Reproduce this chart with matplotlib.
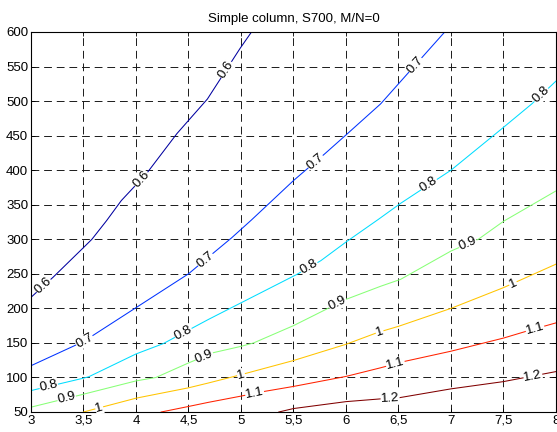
import numpy as np
import matplotlib
matplotlib.use('Agg')
from matplotlib import pyplot as plt

plt.rcParams['font.family'] = ['Liberation Sans', 'DejaVu Sans']
plt.rcParams['xtick.direction'] = 'in'
plt.rcParams['ytick.direction'] = 'in'

# contour lines: (x, y) points per level
levels = ['0.6', '0.7', '0.8', '0.9', '1', '1.1', '1.2']
colors = ['#0000A0', '#0033FF', '#00DDFF', '#88FF77', '#FFC400', '#FF2200', '#800000']

x06 = [3.0, 3.21, 3.5, 3.58, 3.72, 3.86, 4.1, 4.39, 4.68, 4.99, 5.10]
y06 = [216, 245, 288, 300, 327, 356, 395, 453, 503, 576, 600]
x07 = [3.0, 3.5, 4.0, 4.5, 4.72, 4.91, 5.1, 5.5, 5.8, 6.0, 6.33, 6.5, 6.94]
y07 = [117, 152, 201, 250, 278, 302, 328, 385, 424, 451, 496, 525, 600]
x08 = [3.0, 3.5, 3.55, 4.0, 4.26, 4.69, 5.0, 5.53, 5.76, 6.0, 6.31, 6.52, 7.0, 7.5, 7.77, 8.0]
y08 = [81, 99, 101, 134, 149, 184, 208, 249, 269, 296, 329, 352, 400, 462, 496, 529]
x09 = [3.0, 3.48, 4.0, 4.19, 4.5, 4.74, 5.0, 5.12, 5.5, 6.0, 6.33, 6.52, 7.0, 7.26, 7.5, 8.0]
y09 = [57, 75, 95, 100, 121, 136, 145, 150, 175, 213, 232, 242, 283, 300, 326, 370]
x10 = [3.5, 4.0, 4.5, 4.69, 5.0, 5.5, 6.0, 6.3, 6.5, 7.0, 7.5, 8.0]
y10 = [50, 70, 85, 92, 104, 124.5, 148, 165, 174, 200, 230, 264]
x11 = [4.24, 4.5, 4.69, 5.0, 5.23, 5.5, 6.0, 6.33, 6.55, 7.0, 7.5, 7.72, 8.0]
y11 = [50, 58, 64, 73, 80, 87, 101.5, 114, 123, 138, 157, 167, 179]
x12 = [5.36, 5.5, 6.0, 6.33, 6.5, 7.0, 7.5, 8.0]
y12 = [50, 55, 65, 69, 70.5, 83.5, 94, 108.5]

# x positions of the inline labels on each line
lab_x = [[3.12, 4.05, 4.86],
         [3.51, 4.66, 5.71, 6.66],
         [3.17, 4.45, 5.65, 6.79, 7.86],
         [3.34, 4.65, 5.92, 7.16],
         [3.65, 5.0, 6.32, 7.59],
         [5.13, 6.47, 7.8],
         [6.42, 7.78]]

xs = [x06, x07, x08, x09, x10, x11, x12]
ys = [y06, y07, y08, y09, y10, y11, y12]

xticks = [3, 3.5, 4, 4.5, 5, 5.5, 6, 6.5, 7, 7.5, 8]
xticklabels = ['3', '3,5', '4', '4,5', '5', '5,5', '6', '6,5', '7', '7,5', '8']
yticks = list(range(50, 601, 50))

fig = plt.figure(figsize=(5.57, 4.32), dpi=100)
ax = fig.add_axes([31/557, 20/432, 525/557, 380/432])
ax.set_xlim(3, 8)
ax.set_ylim(50, 600)

for i in range(len(levels)):
    ax.plot(xs[i], ys[i], '-', color=colors[i], lw=0.75, zorder=2)

fig.canvas.draw()
for i in range(len(levels)):
    for lx in lab_x[i]:
        ly = np.interp(lx, xs[i], ys[i])
        p1 = ax.transData.transform((lx - 0.05, np.interp(lx - 0.05, xs[i], ys[i])))
        p2 = ax.transData.transform((lx + 0.05, np.interp(lx + 0.05, xs[i], ys[i])))
        ang = np.degrees(np.arctan2(p2[1] - p1[1], p2[0] - p1[0]))
        ax.text(lx, ly, levels[i], fontsize=9.5, rotation=ang, rotation_mode='anchor',
                ha='center', va='center', zorder=3,
                bbox=dict(facecolor='white', edgecolor='none', pad=0.2))

ax.set_xticks(xticks)
ax.set_xticklabels(xticklabels)
ax.set_yticks(yticks)
ax.tick_params(labelsize=9.5, top=True, right=True, length=3, width=0.6, pad=2)
ax.grid(True, color='#1a1a1a', linestyle=(0, (8, 5)), linewidth=0.7)
for s in ax.spines.values():
    s.set_linewidth(0.8)
ax.set_title('Simple column, S700, M/N=0', fontsize=9.5, pad=7)

plt.savefig('out.png', dpi=100)
